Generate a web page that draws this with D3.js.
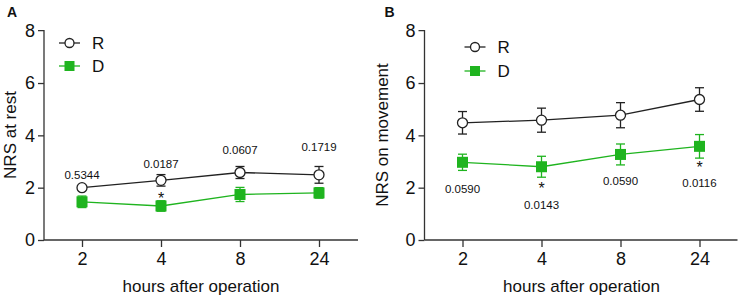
<!doctype html>
<html>
<head>
<meta charset="utf-8"/>
<script src="https://cdnjs.cloudflare.com/ajax/libs/d3/7.8.5/d3.min.js"></script>
<style>
  body { margin: 0; background: #fff; }
  svg { display: block; font-family: "Liberation Sans", Arial, sans-serif; }
</style>
</head>
<body>
<svg id="chart" width="743" height="302"></svg>
<script>
// hours after operation
var hours = ["2", "4", "8", "24"];
var yTicks = [0, 2, 4, 6, 8];

// panel A: NRS at rest
var restR = [2.0, 2.28, 2.58, 2.49];
var restRErr = [0.08, 0.22, 0.23, 0.32];
var restD = [1.46, 1.3, 1.74, 1.8];
var restDErr = [0.22, 0.2, 0.27, 0.2];
var restP = ["0.5344", "0.0187", "0.0607", "0.1719"];
var restStar = [false, true, false, false];

// panel B: NRS on movement
var moveR = [4.48, 4.58, 4.77, 5.37];
var moveRErr = [0.43, 0.46, 0.48, 0.45];
var moveD = [2.97, 2.8, 3.27, 3.58];
var moveDErr = [0.31, 0.4, 0.4, 0.45];
var moveP = ["0.0590", "0.0143", "0.0590", "0.0116"];
var moveStar = [false, true, false, true];

var green = "#1fb41f";
var svg = d3.select("#chart");

function panel(opt) {
  var g = svg.append("g").attr("transform", "translate(" + opt.left + ",0)");
  var x = d3.scalePoint().domain(hours).range([38, 275]);
  var y = d3.scaleLinear().domain([0, 8]).range([240, 30.7]);

  // axes
  var ya = g.append("g").call(d3.axisLeft(y).tickValues(yTicks).tickSize(6).tickPadding(3));
  var xa = g.append("g").attr("transform", "translate(0,240)")
    .call(d3.axisBottom(x).tickSize(7).tickPadding(5));
  ya.select(".domain").attr("d", "M-6,30.7H0V240");
  xa.select(".domain").attr("d", "M0,0H" + opt.axisEnd);
  svg.selectAll(".domain, .tick line").attr("stroke", "#333").attr("stroke-width", 1.3);
  ya.selectAll(".tick text").attr("font-size", 18).attr("fill", "#111");
  ya.selectAll(".tick").filter(function (d) { return d == 8; }).select("line").remove();
  xa.selectAll(".tick text").attr("font-size", 18).attr("fill", "#111");

  // titles
  g.append("text").attr("x", x("4") + 40).attr("y", 292).attr("text-anchor", "middle")
    .attr("font-size", 17).attr("fill", "#111").text("hours after operation");
  g.append("text").attr("transform", "translate(" + opt.ytitleX + ",135) rotate(-90)")
    .attr("text-anchor", "middle").attr("font-size", 17).attr("fill", "#111").text(opt.ytitle);
  g.append("text").attr("x", opt.letterX).attr("y", 17).attr("font-size", 14)
    .attr("font-weight", "bold").attr("fill", "#111").text(opt.letter);

  var line = d3.line().x(function (d, i) { return x(hours[i]); }).y(function (d) { return y(d); });

  function series(vals, errs, color, shape) {
    g.append("path").datum(vals).attr("d", line).attr("fill", "none")
      .attr("stroke", color).attr("stroke-width", 1.3);
    vals.forEach(function (v, i) {
      var cx = x(hours[i]);
      var e = g.append("g").attr("stroke", color).attr("stroke-width", 1.3);
      e.append("line").attr("x1", cx).attr("x2", cx).attr("y1", y(v + errs[i])).attr("y2", y(v - errs[i]));
      e.append("line").attr("x1", cx - 4.5).attr("x2", cx + 4.5).attr("y1", y(v + errs[i])).attr("y2", y(v + errs[i]));
      e.append("line").attr("x1", cx - 4.5).attr("x2", cx + 4.5).attr("y1", y(v - errs[i])).attr("y2", y(v - errs[i]));
      if (shape == "circle") {
        g.append("circle").attr("cx", cx).attr("cy", y(v)).attr("r", 5)
          .attr("fill", "#fff").attr("stroke", color).attr("stroke-width", 1.3);
      } else {
        g.append("rect").attr("x", cx - 5.5).attr("y", y(v) - 5.5).attr("width", 11).attr("height", 11)
          .attr("fill", color);
      }
    });
  }
  series(opt.R, opt.RErr, "#222", "circle");
  series(opt.D, opt.DErr, green, "square");

  // legend
  var lx = opt.legendX;
  [["R", "#222", "circle", opt.legY[0]], ["D", green, "square", opt.legY[1]]].forEach(function (l) {
    g.append("line").attr("x1", lx).attr("x2", lx + 21).attr("y1", l[3]).attr("y2", l[3])
      .attr("stroke", l[1]).attr("stroke-width", 1.3);
    if (l[2] == "circle") {
      g.append("circle").attr("cx", lx + 10.5).attr("cy", l[3]).attr("r", 4.5)
        .attr("fill", "#fff").attr("stroke", l[1]).attr("stroke-width", 1.3);
    } else {
      g.append("rect").attr("x", lx + 5.5).attr("y", l[3] - 5).attr("width", 10).attr("height", 10).attr("fill", l[1]);
    }
    g.append("text").attr("x", lx + 33).attr("y", l[3] + 6).attr("font-size", 17).attr("fill", "#111").text(l[0]);
  });

  // p values and stars
  opt.P.forEach(function (p, i) {
    g.append("text").attr("x", x(hours[i])).attr("y", opt.pY[i]).attr("text-anchor", "middle")
      .attr("font-size", 11.5).attr("fill", "#111").text(p);
    if (opt.star[i]) {
      g.append("text").attr("x", x(hours[i])).attr("y", opt.starY[i]).attr("text-anchor", "middle")
        .attr("font-size", 16).attr("fill", "#111").text("*");
    }
  });
}

panel({
  left: 44, axisEnd: 314, ytitle: "NRS at rest", ytitleX: -28, letter: "A", letterX: -37,
  R: restR, RErr: restRErr, D: restD, DErr: restDErr,
  P: restP, star: restStar, pY: [179, 168, 154, 151], starY: [204, 204, 0, 0],
  legendX: 15, legY: [43, 66]
});
panel({
  left: 424.5, axisEnd: 313, ytitle: "NRS on movement", ytitleX: -37, letter: "B", letterX: -40,
  R: moveR, RErr: moveRErr, D: moveD, DErr: moveDErr,
  P: moveP, star: moveStar, pY: [193, 209, 185, 186.5], starY: [0, 193.5, 0, 172.5],
  legendX: 40, legY: [47, 71]
});
</script>
</body>
</html>
